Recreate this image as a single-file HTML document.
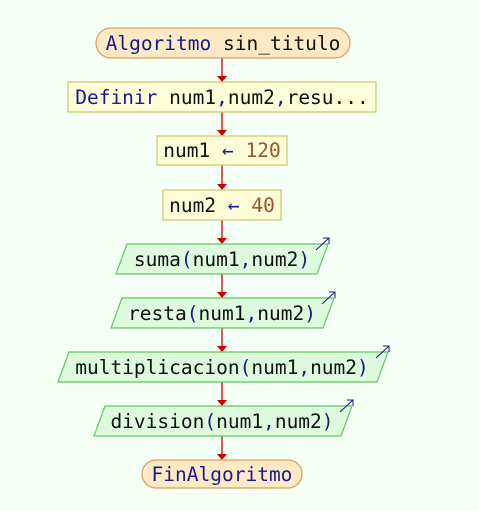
<!DOCTYPE html>
<html><head><style>
html,body{margin:0;padding:0;background:#f5fff5;}
svg text{font-family:"DejaVu Sans Mono","Liberation Mono",monospace;font-size:19.5px;}
</style></head><body>
<svg width="479" height="506" viewBox="0 0 479 506" xmlns="http://www.w3.org/2000/svg">
<rect width="479" height="506" fill="#f5fff5"/>
<g stroke="#cc0000" stroke-width="1.3">
<line x1="222" y1="58" x2="222" y2="80"/>
<line x1="222" y1="112" x2="222" y2="134"/>
<line x1="222" y1="165" x2="222" y2="188"/>
<line x1="222" y1="220" x2="222" y2="242"/>
<line x1="222" y1="274" x2="222" y2="296"/>
<line x1="222" y1="328" x2="222" y2="350"/>
<line x1="222" y1="382" x2="222" y2="404"/>
<line x1="222" y1="436" x2="222" y2="458"/>
</g>
<g fill="#cc0000">
<polygon points="217,76 227,76 222,82"/>
<polygon points="217,130 227,130 222,136"/>
<polygon points="217,184 227,184 222,190"/>
<polygon points="217,238 227,238 222,244"/>
<polygon points="217,292 227,292 222,298"/>
<polygon points="217,346 227,346 222,352"/>
<polygon points="217,400 227,400 222,406"/>
<polygon points="217,454 227,454 222,460"/>
</g>
<rect x="96" y="28" width="254" height="30" rx="15" fill="#fde9c4" stroke="#d9a05a" stroke-width="1.2"/>
<text x="223" y="50" text-anchor="middle"><tspan fill="#1a1a8c">Algoritmo</tspan><tspan fill="#111"> sin_titulo</tspan></text>
<rect x="68" y="82" width="308" height="30" fill="#fdfdd8" stroke="#c8c86a" stroke-width="1.2"/>
<text x="222" y="104" text-anchor="middle"><tspan fill="#1a1a8c">Definir</tspan><tspan fill="#111"> num1</tspan><tspan fill="#1a1a8c">,</tspan><tspan fill="#111">num2</tspan><tspan fill="#1a1a8c">,</tspan><tspan fill="#111">resu...</tspan></text>
<rect x="157" y="136" width="130" height="29" fill="#fdfdd8" stroke="#c8c86a" stroke-width="1.2"/>
<text x="222" y="157" text-anchor="middle"><tspan fill="#111">num1 </tspan><tspan fill="#1a1a8c">←</tspan><tspan fill="#a0522d"> 120</tspan></text>
<rect x="163" y="190" width="118" height="30" fill="#fdfdd8" stroke="#c8c86a" stroke-width="1.2"/>
<text x="222" y="212" text-anchor="middle"><tspan fill="#111">num2 </tspan><tspan fill="#1a1a8c">←</tspan><tspan fill="#a0522d"> 40</tspan></text>
<g fill="#ddfadd" stroke="#66c466" stroke-width="1.2">
<polygon points="127,244 328,244 317,274 116,274"/>
<polygon points="122,298 334,298 323,328 111,328"/>
<polygon points="69,352 388,352 377,382 58,382"/>
<polygon points="105,406 352,406 341,436 94,436"/>
</g>
<g stroke="#1a1a8c" stroke-width="1" fill="none">
<path d="M316,250 L329,238 M323,238 L329,238 L329,244"/>
<path d="M322,304 L335,292 M329,292 L335,292 L335,298"/>
<path d="M376,358 L389,346 M383,346 L389,346 L389,352"/>
<path d="M340,412 L353,400 M347,400 L353,400 L353,406"/>
</g>
<text x="222" y="266" text-anchor="middle"><tspan fill="#111">suma</tspan><tspan fill="#1a1a8c">(</tspan><tspan fill="#111">num1</tspan><tspan fill="#1a1a8c">,</tspan><tspan fill="#111">num2</tspan><tspan fill="#1a1a8c">)</tspan></text>
<text x="222" y="320" text-anchor="middle"><tspan fill="#111">resta</tspan><tspan fill="#1a1a8c">(</tspan><tspan fill="#111">num1</tspan><tspan fill="#1a1a8c">,</tspan><tspan fill="#111">num2</tspan><tspan fill="#1a1a8c">)</tspan></text>
<text x="222" y="374" text-anchor="middle"><tspan fill="#111">multiplicacion</tspan><tspan fill="#1a1a8c">(</tspan><tspan fill="#111">num1</tspan><tspan fill="#1a1a8c">,</tspan><tspan fill="#111">num2</tspan><tspan fill="#1a1a8c">)</tspan></text>
<text x="222" y="428" text-anchor="middle"><tspan fill="#111">division</tspan><tspan fill="#1a1a8c">(</tspan><tspan fill="#111">num1</tspan><tspan fill="#1a1a8c">,</tspan><tspan fill="#111">num2</tspan><tspan fill="#1a1a8c">)</tspan></text>
<rect x="142" y="460" width="160" height="28" rx="14" fill="#fde9c4" stroke="#d9a05a" stroke-width="1.2"/>
<text x="222" y="481" text-anchor="middle" fill="#1a1a8c">FinAlgoritmo</text>
</svg>
</body></html>
